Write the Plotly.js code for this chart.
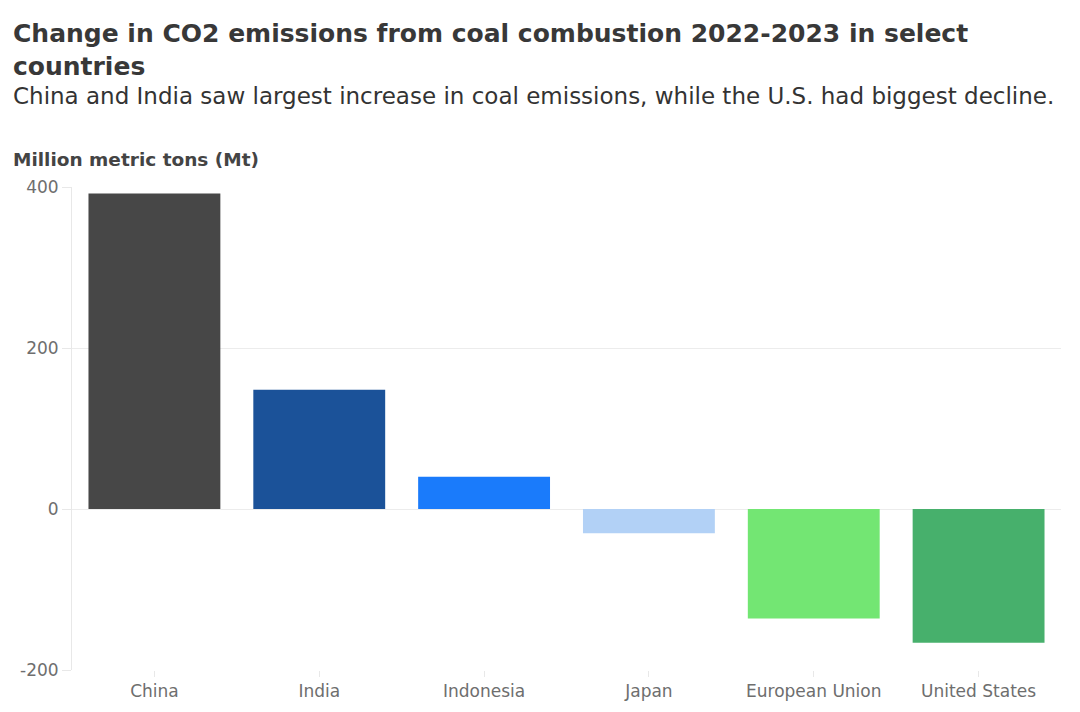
<!DOCTYPE html>
<html>
<head>
<meta charset="utf-8">
<script src="https://cdn.plot.ly/plotly-3.0.1.min.js"></script>
<style>html,body{margin:0;padding:0;background:#fff;}#chart{width:1080px;height:712px;}</style>
</head>
<body>
<div id="chart"></div>
<script>
const countries = ["China", "India", "Indonesia", "Japan", "European Union", "United States"];
const changeMt = [392, 148, 40, -30, -136, -166];
const barColors = ["#474747", "#1b5299", "#1a7bfb", "#b2d1f6", "#73e673", "#47b06c"];
const yTicks = [-200, 0, 200, 400];

const titleText = "Change in CO2 emissions from coal combustion 2022-2023 in select<br>countries";
const subtitleText = "China and India saw largest increase in coal emissions, while the U.S. had biggest decline.";
const yTitleText = "Million metric tons (Mt)";

const trace = {
  type: "bar",
  x: countries,
  y: changeMt,
  marker: {color: barColors},
  hoverinfo: "x+y"
};

const M = {l: 72, r: 19, t: 187, b: 42};
const plotW = 1080 - M.l - M.r, plotH = 712 - M.t - M.b;
function px(pixX) { return (pixX - M.l) / plotW; }
function py(pixY) { return (712 - M.b - pixY) / plotH; }

const tickFont = {family: "'DejaVu Sans', sans-serif", size: 17, color: "#6e6e6e"};

const layout = {
  width: 1080, height: 712,
  paper_bgcolor: "#ffffff", plot_bgcolor: "#ffffff",
  margin: M,
  bargap: 0.2,
  showlegend: false,
  font: {family: "'DejaVu Sans', sans-serif", color: "#555"},
  xaxis: {
    type: "category",
    showgrid: false,
    zeroline: false,
    showline: false,
    ticks: "outside", ticklen: 6, tickcolor: "#e8e8e8", tickwidth: 1,
    tickfont: tickFont
  },
  yaxis: {
    range: [-200, 400],
    tickvals: yTicks,
    ticktext: yTicks.map(String),
    showgrid: true, gridcolor: "#ececec", gridwidth: 1,
    zeroline: false,
    showline: true, linecolor: "#e8e8e8", linewidth: 1,
    ticks: "outside", ticklen: 9, tickcolor: "#e8e8e8",
    tickfont: tickFont
  },
  annotations: [
    {text: "<b>" + titleText + "</b>", xref: "paper", yref: "paper", x: px(12), y: py(82), xanchor: "left", yanchor: "bottom", align: "left", showarrow: false, borderpad: 0,
     font: {family: "'DejaVu Sans', sans-serif", size: 25, color: "#383838"}},
    {text: subtitleText, xref: "paper", yref: "paper", x: px(12), y: py(110), xanchor: "left", yanchor: "bottom", align: "left", showarrow: false, borderpad: 0,
     font: {family: "'DejaVu Sans', sans-serif", size: 23, color: "#333"}},
    {text: "<b>" + yTitleText + "</b>", xref: "paper", yref: "paper", x: px(12), y: py(171), xanchor: "left", yanchor: "bottom", align: "left", showarrow: false, borderpad: 0,
     font: {family: "'DejaVu Sans', sans-serif", size: 18.5, color: "#444"}}
  ]
};

Plotly.newPlot("chart", [trace], layout, {displayModeBar: false, staticPlot: true});
</script>
</body>
</html>
